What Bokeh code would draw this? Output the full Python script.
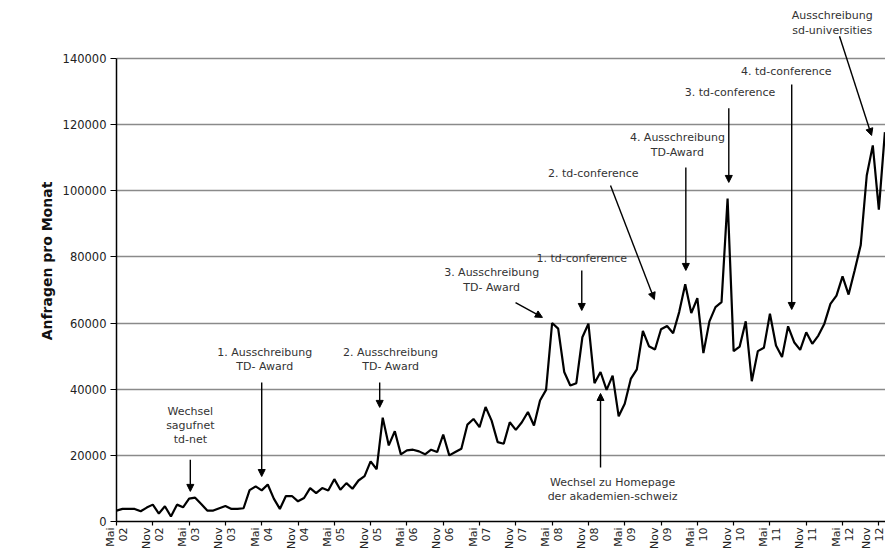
import math
from bokeh.plotting import figure
from bokeh.models import Range1d, FixedTicker, BasicTickFormatter, Label, Arrow, NormalHead, ColumnDataSource
from bokeh.embed import file_html
from bokeh.resources import INLINE

# monthly requests, May 2002 .. Dec 2012
requests = [
    3300, 3800, 3800, 3800, 3100, 4200, 5100, 2400, 4600, 1500, 5100, 4300,
    6900, 7200, 5300, 3300, 3300, 4000, 4700, 3800, 3800, 4000, 9500, 10600,
    9400, 11200, 6900, 3800, 7700, 7700, 6100, 7100, 10100, 8600, 10100, 9400,
    12800, 9600, 11600, 9900, 12400, 13700, 18200, 15800, 31400, 23000, 27300, 20300,
    21500, 21700, 21200, 20300, 21700, 21000, 26300, 20000, 21000, 22000, 29300, 31000,
    28500, 34600, 30500, 24000, 23500, 30000, 27700, 30000, 33100, 29000, 36600, 39800,
    60000, 58300, 45200, 41100, 41800, 55700, 59800, 41800, 45200, 39800, 44100, 31800,
    35600, 43100, 46000, 57600, 53000, 52000, 58100, 59100, 56900, 63300, 71700, 63000,
    67500, 50900, 60500, 64800, 66300, 97600, 51500, 52900, 60500, 42400, 51500, 52500,
    62800, 53200, 49700, 59000, 54200, 51900, 57200, 53700, 56200, 59800, 65800, 68300,
    74100, 68600, 75900, 83500, 104600, 113700, 94300, 117700,
]
month_index = list(range(len(requests)))

tick_labels = [
    "Mai\n02", "Nov\n02", "Mai\n03", "Nov\n03", "Mai\n04", "Nov\n04", "Mai\n05", "Nov\n05",
    "Mai\n06", "Nov\n06", "Mai\n07", "Nov\n07", "Mai\n08", "Nov\n08", "Mai\n09", "Nov\n09",
    "Mai\n10", "Nov\n10", "Mai\n11", "Nov\n11", "Mai\n12", "Nov\n12",
]
tick_months = [0, 6, 12, 18, 24, 30, 36, 42, 48, 54, 60, 66, 72, 78, 84, 90, 96, 102, 108, 114, 120, 126]
y_ticks = [0, 20000, 40000, 60000, 80000, 100000, 120000, 140000]

# annotations: text lines (month, value) and arrows (month/value start -> end)
notes = [
    (["Wechsel", "sagufnet", "td-net"], 12.2, [33300, 29000, 24800]),
    (["1. Ausschreibung", "TD- Award"], 24.5, [51100, 46900]),
    (["2. Ausschreibung", "TD- Award"], 45.3, [51100, 46900]),
    (["3. Ausschreibung", "TD- Award"], 62.0, [75300, 70800]),
    (["1. td-conference"], 76.9, [79500]),
    (["Wechsel zu Homepage", "der akademien-schweiz"], 82.0, [11800, 7600]),
    (["2. td-conference"], 78.8, [105200]),
    (["4. Ausschreibung", "TD-Award"], 92.7, [116100, 111600]),
    (["3. td-conference"], 101.4, [129700]),
    (["4. td-conference"], 110.7, [136100]),
    (["Ausschreibung", "sd-universities"], 118.3, [153000, 148500]),
]
arrows = [
    (12.2, 18700, 12.2, 9100),
    (24.0, 42000, 24.0, 13600),
    (43.5, 42000, 43.5, 34500),
    (65.95, 66200, 70.4, 61700),
    (76.9, 75900, 76.9, 63800),
    (80.0, 16300, 80.0, 38700),
    (81.65, 101600, 88.9, 67100),
    (94.1, 107000, 94.1, 75900),
    (101.2, 124900, 101.2, 102500),
    (111.6, 132100, 111.6, 64100),
    (119.5, 146700, 124.8, 116700),
]

FONT = "DejaVu Sans"

p = figure(width=885, height=556, output_backend="svg", toolbar_location=None,
           x_range=Range1d(0, 127.1), y_range=Range1d(0, 157500),
           min_border_left=116, min_border_right=0, min_border_top=0, min_border_bottom=35)
p.outline_line_color = None
p.background_fill_color = "white"
p.border_fill_color = "white"

src = ColumnDataSource(dict(m=month_index, v=requests))
p.line("m", "v", source=src, line_color="black", line_width=2.2)

# y axis
p.yaxis.bounds = (0, 140000)
p.yaxis.ticker = FixedTicker(ticks=y_ticks)
p.yaxis.formatter = BasicTickFormatter(use_scientific=False)
p.yaxis.axis_line_color = "black"
p.yaxis.axis_line_width = 1.5
p.yaxis.major_tick_line_color = "black"
p.yaxis.major_tick_line_width = 1.2
p.yaxis.major_tick_out = 6
p.yaxis.major_tick_in = 0
p.yaxis.minor_tick_line_color = None
p.yaxis.major_label_text_font = FONT
p.yaxis.major_label_text_font_size = "11.5px"
p.yaxis.major_label_text_color = "#222222"
p.yaxis.major_label_standoff = 4
p.yaxis.axis_label = "Anfragen pro Monat"
p.yaxis.axis_label_text_font = FONT
p.yaxis.axis_label_text_font_style = "bold"
p.yaxis.axis_label_text_font_size = "14px"
p.yaxis.axis_label_text_color = "#111111"
p.yaxis.axis_label_standoff = 5

# x axis
p.xaxis.ticker = FixedTicker(ticks=tick_months)
p.xaxis.major_label_overrides = {m: lab for m, lab in zip(tick_months, tick_labels)}
p.xaxis.major_label_orientation = math.pi / 2
p.xaxis.axis_line_color = "black"
p.xaxis.axis_line_width = 1.5
p.xaxis.major_tick_line_color = "black"
p.xaxis.major_tick_line_width = 1.2
p.xaxis.major_tick_out = 4
p.xaxis.major_tick_in = 0
p.xaxis.minor_tick_line_color = None
p.xaxis.major_label_text_font = FONT
p.xaxis.major_label_text_font_size = "11px"
p.xaxis.major_label_text_color = "#222222"
p.xaxis.major_label_standoff = 2
p.xaxis.major_label_text_line_height = 1.0

p.xgrid.visible = False
p.ygrid.ticker = FixedTicker(ticks=y_ticks)
p.ygrid.grid_line_color = "#8a8a8a"
p.ygrid.grid_line_width = 1.5

for lines, mx, vys in notes:
    for txt, vy in zip(lines, vys):
        p.add_layout(Label(x=mx, y=vy, text=txt, text_font=FONT, text_font_size="11px",
                           text_color="#333333", text_align="center", text_baseline="middle"))

for x0, y0, x1, y1 in arrows:
    p.add_layout(Arrow(x_start=x0, y_start=y0, x_end=x1, y_end=y1,
                       line_color="black", line_width=1.4,
                       end=NormalHead(size=7, fill_color="black", line_color="black", line_width=1)))

open("out.html", "w").write(file_html(p, INLINE))
